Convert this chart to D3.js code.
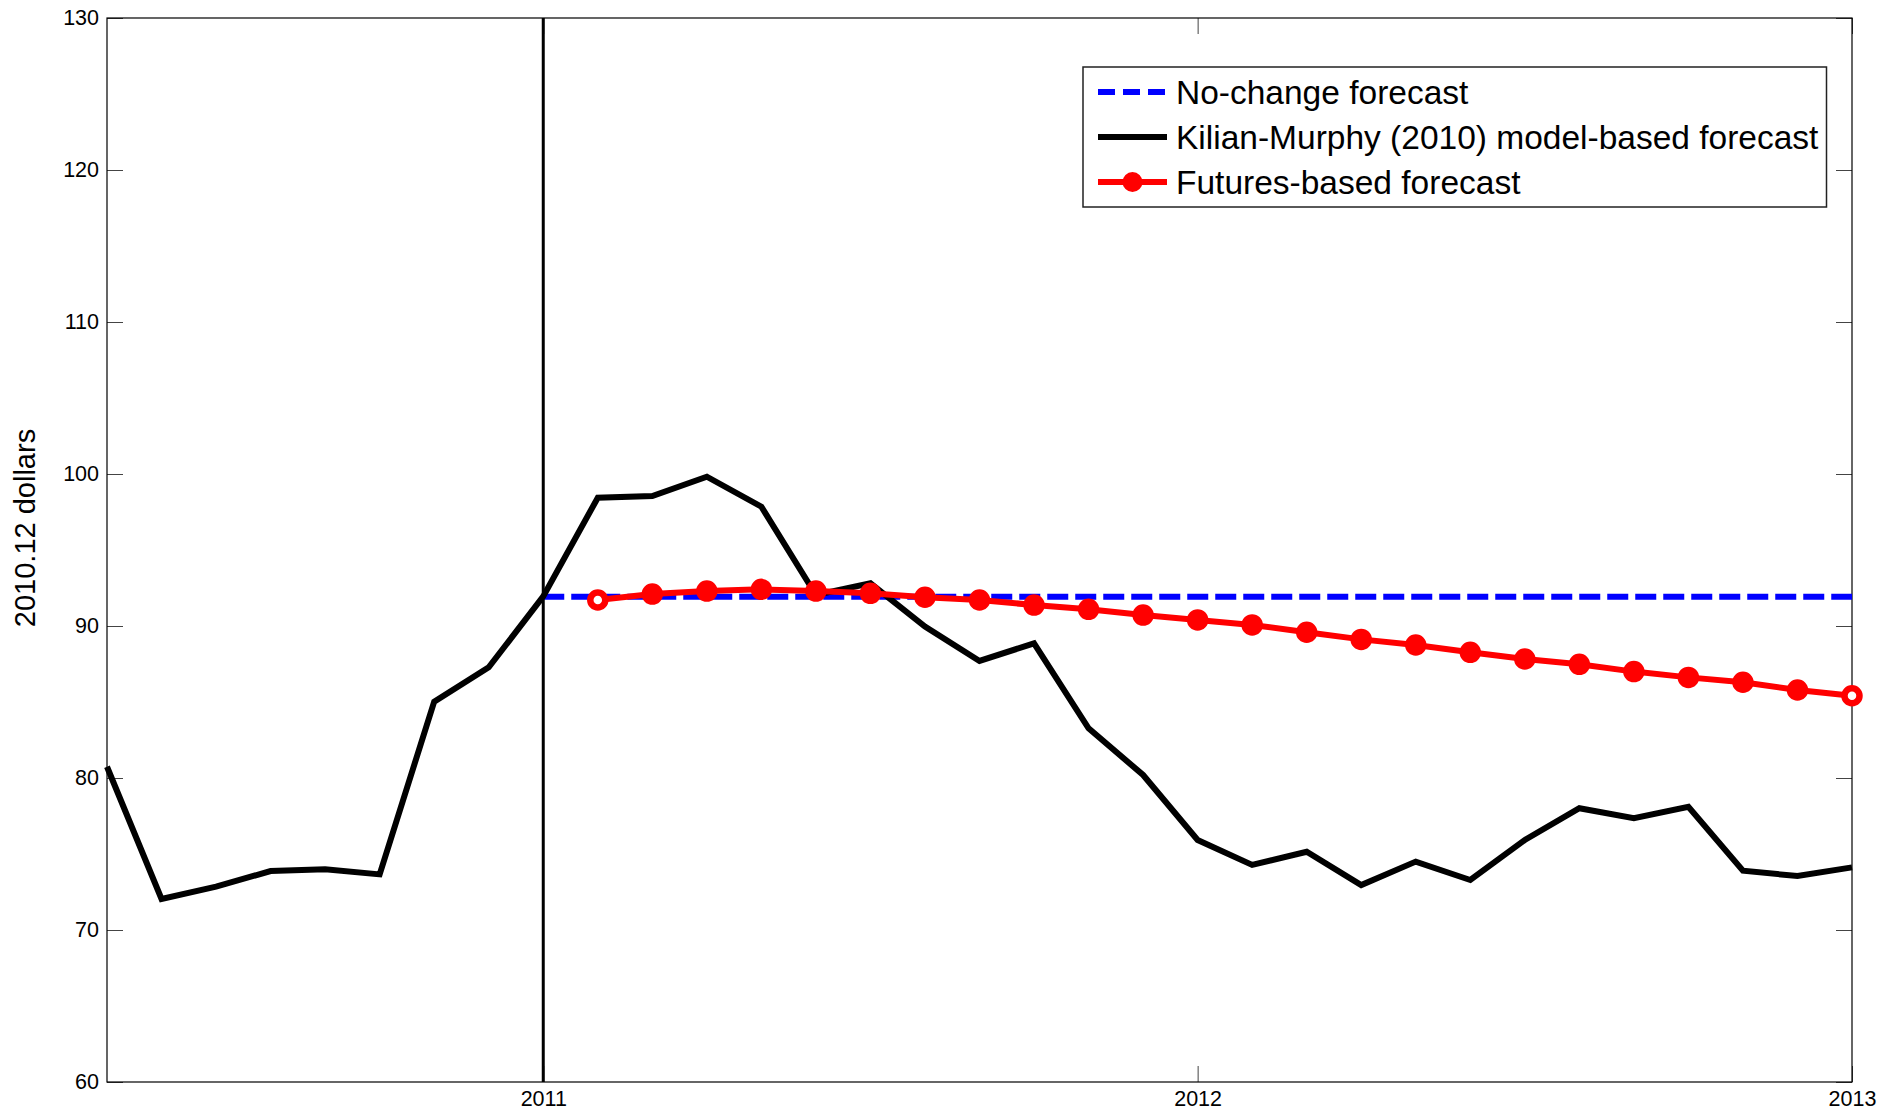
<!DOCTYPE html>
<html>
<head>
<meta charset="utf-8">
<script src="https://cdn.jsdelivr.net/npm/d3@7"></script>
<style>
  html, body { margin: 0; padding: 0; background: #fff; }
  svg { display: block; font-family: "Liberation Sans", Arial, Helvetica, sans-serif; }
</style>
</head>
<body>
<svg id="chart" width="1902" height="1115"></svg>
<script>
// Monthly real oil price forecasts, in 2010.12 dollars.
// Model-based series starts in May 2010 and runs through January 2013.
const modelStart = { year: 2010, month: 5 };
const modelForecast = [
  80.74, 72.04, 72.85, 73.88, 74.00, 73.66, 85.02, 87.28,
  91.95, 98.44, 98.55, 99.82, 97.85, 92.04, 92.81, 89.96,
  87.70, 88.86, 83.27, 80.20, 75.92, 74.28, 75.15, 72.96,
  74.50, 73.29, 75.92, 78.01, 77.35, 78.11, 73.90, 73.55,
  74.12
];

// No-change forecast: January 2011 through January 2013.
const noChangeStart = { year: 2011, month: 1 };
const noChangeForecast = [
  91.93, 91.93, 91.93, 91.93, 91.93, 91.93, 91.93, 91.93, 91.93,
  91.93, 91.93, 91.93, 91.93, 91.93, 91.93, 91.93, 91.93, 91.93,
  91.93, 91.93, 91.93, 91.93, 91.93, 91.93, 91.93
];

// Futures-based forecast: February 2011 through January 2013.
const futuresStart = { year: 2011, month: 2 };
const futuresForecast = [
  91.71, 92.10, 92.30, 92.41, 92.30, 92.15, 91.89, 91.71,
  91.38, 91.10, 90.72, 90.40, 90.07, 89.59, 89.12, 88.75,
  88.27, 87.83, 87.48, 87.00, 86.62, 86.30, 85.79, 85.41
];

const forecastOrigin = 2011;
const xTicks = [2011, 2012, 2013];
const yTicks = [60, 70, 80, 90, 100, 110, 120, 130];
const yLabel = "2010.12 dollars";
const legendLabels = [
  "No-change forecast",
  "Kilian-Murphy (2010) model-based forecast",
  "Futures-based forecast"
];

// Turn a monthly series into {t, v} points, t in decimal years.
function monthly(start, values) {
  return values.map((v, i) => ({ t: start.year + (start.month - 1 + i) / 12, v }));
}

const svg = d3.select("#chart");
const plot = { left: 107, right: 1852, top: 18, bottom: 1082 };

const x = d3.scaleLinear()
  .domain([modelStart.year + (modelStart.month - 1) / 12, 2013])
  .range([plot.left, plot.right]);
const y = d3.scaleLinear().domain([60, 130]).range([plot.bottom, plot.top]);

const line = d3.line().x(d => x(d.t)).y(d => y(d.v));

// Axes: ticks point inward on all four sides.
const tickLen = 16;
const tickColor = "#444";
const fontTick = 21.5;

svg.append("g")
  .attr("transform", `translate(${plot.left},0)`)
  .call(d3.axisLeft(y).tickValues(yTicks).tickSize(-tickLen).tickPadding(8).tickFormat(d3.format("d")))
  .call(g => g.select(".domain").remove())
  .call(g => g.selectAll("line").attr("stroke", tickColor))
  .call(g => g.selectAll("text").attr("font-size", fontTick).attr("fill", "#000")
    .attr("font-family", "Liberation Sans, Arial, sans-serif"));

svg.append("g")
  .attr("transform", `translate(${plot.right},0)`)
  .call(d3.axisRight(y).tickValues(yTicks).tickSize(-tickLen).tickFormat(""))
  .call(g => g.select(".domain").remove())
  .call(g => g.selectAll("line").attr("stroke", tickColor));

svg.append("g")
  .attr("transform", `translate(0,${plot.bottom})`)
  .call(d3.axisBottom(x).tickValues(xTicks).tickSize(-tickLen).tickPadding(10).tickFormat(d3.format("d")))
  .call(g => g.select(".domain").remove())
  .call(g => g.selectAll("line").attr("stroke", tickColor))
  .call(g => g.selectAll("text").attr("font-size", fontTick).attr("fill", "#000")
    .attr("dy", "0.71em").attr("y", 9)
    .attr("font-family", "Liberation Sans, Arial, sans-serif"));

svg.append("g")
  .attr("transform", `translate(0,${plot.top})`)
  .call(d3.axisTop(x).tickValues(xTicks).tickSize(-tickLen).tickFormat(""))
  .call(g => g.select(".domain").remove())
  .call(g => g.selectAll("line").attr("stroke", tickColor));

// Plot frame
svg.append("rect")
  .attr("x", plot.left).attr("y", plot.top)
  .attr("width", plot.right - plot.left).attr("height", plot.bottom - plot.top)
  .attr("fill", "none").attr("stroke", "#000").attr("stroke-width", 1.2);

// Y-axis title
svg.append("text")
  .attr("transform", `translate(35,528) rotate(-90)`)
  .attr("text-anchor", "middle")
  .attr("font-size", 29)
  .text(yLabel);

// Forecast origin marker
svg.append("line")
  .attr("x1", x(forecastOrigin)).attr("x2", x(forecastOrigin))
  .attr("y1", plot.top).attr("y2", plot.bottom)
  .attr("stroke", "#000").attr("stroke-width", 3);

// Series
svg.append("path")
  .datum(monthly(noChangeStart, noChangeForecast))
  .attr("d", line)
  .attr("fill", "none").attr("stroke", "#0000ff").attr("stroke-width", 6)
  .attr("stroke-dasharray", "21,7");

svg.append("path")
  .datum(monthly(modelStart, modelForecast))
  .attr("d", line)
  .attr("fill", "none").attr("stroke", "#000").attr("stroke-width", 6)
  .attr("stroke-linejoin", "miter");

const futuresPts = monthly(futuresStart, futuresForecast);
svg.append("path")
  .datum(futuresPts)
  .attr("d", line)
  .attr("fill", "none").attr("stroke", "#ff0000").attr("stroke-width", 6);

svg.append("g").selectAll("circle")
  .data(futuresPts)
  .join("circle")
  .attr("cx", d => x(d.t)).attr("cy", d => y(d.v))
  .attr("r", 7.5)
  .attr("fill", (d, i) => (i === 0 || i === futuresPts.length - 1) ? "#fff" : "#ff0000")
  .attr("stroke", "#ff0000").attr("stroke-width", 6.5);

// Legend
const legend = svg.append("g");
legend.append("rect")
  .attr("x", 1083).attr("y", 67).attr("width", 1826.5 - 1083).attr("height", 140)
  .attr("fill", "#fff").attr("stroke", "#222").attr("stroke-width", 1.5);

const rowY = [92, 137, 182];
const lx1 = 1098, lx2 = 1167;
legend.append("line").attr("x1", lx1).attr("x2", lx2).attr("y1", rowY[0]).attr("y2", rowY[0])
  .attr("stroke", "#0000ff").attr("stroke-width", 6).attr("stroke-dasharray", "17,8");
legend.append("line").attr("x1", lx1).attr("x2", lx2).attr("y1", rowY[1]).attr("y2", rowY[1])
  .attr("stroke", "#000").attr("stroke-width", 6);
legend.append("line").attr("x1", lx1).attr("x2", lx2).attr("y1", rowY[2]).attr("y2", rowY[2])
  .attr("stroke", "#ff0000").attr("stroke-width", 6);
legend.append("circle").attr("cx", (lx1 + lx2) / 2).attr("cy", rowY[2]).attr("r", 7)
  .attr("fill", "#ff0000").attr("stroke", "#ff0000").attr("stroke-width", 6);

legend.selectAll("text.lbl")
  .data(legendLabels)
  .join("text")
  .attr("class", "lbl")
  .attr("x", 1176).attr("y", (d, i) => rowY[i])
  .attr("dy", "0.36em")
  .attr("font-size", 33.5)
  .text(d => d);
</script>
</body>
</html>
